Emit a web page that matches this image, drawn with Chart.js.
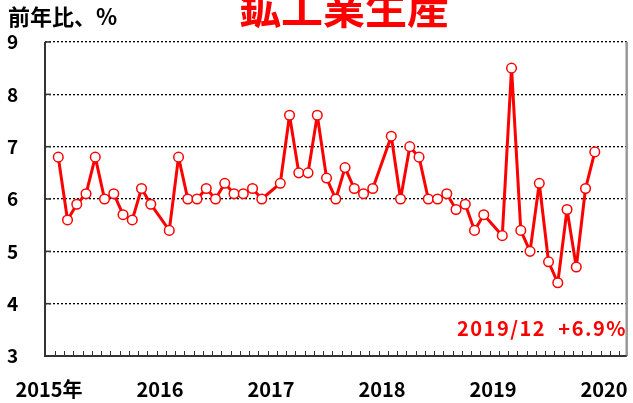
<!DOCTYPE html>
<html>
<head>
<meta charset="utf-8">
<script src="https://cdn.jsdelivr.net/npm/chart.js@4.4.1/dist/chart.umd.min.js"></script>
<style>
  html, body { margin: 0; padding: 0; background: #fff; }
  #wrap { width: 633px; height: 403px; }
</style>
</head>
<body>
<div id="wrap"><canvas id="ipChart" width="633" height="403"></canvas></div>
<script>
// 年ラベル（各年1月の位置）
const yearLabels = ['2015年', '2016', '2017', '2018', '2019', '2020'];

// 前年比 % （1月は1-2月合算のため欠測）
const ip2015 = [null, 6.8, 5.6, 5.9, 6.1, 6.8, 6.0, 6.1, 5.7, 5.6, 6.2, 5.9];
const ip2016 = [null, 5.4, 6.8, 6.0, 6.0, 6.2, 6.0, 6.3, 6.1, 6.1, 6.2, 6.0];
const ip2017 = [null, 6.3, 7.6, 6.5, 6.5, 7.6, 6.4, 6.0, 6.6, 6.2, 6.1, 6.2];
const ip2018 = [null, 7.2, 6.0, 7.0, 6.8, 6.0, 6.0, 6.1, 5.8, 5.9, 5.4, 5.7];
const ip2019 = [null, 5.3, 8.5, 5.4, 5.0, 6.3, 4.8, 4.4, 5.8, 4.7, 6.2, 6.9];

const yTicks = [3, 4, 5, 6, 7, 8, 9];

const title = '鉱工業生産';
const unitLabel = '前年比、%';
const latestLabel = '2019/12';
const latestValue = '+6.9%';

const ipValues = [].concat(ip2015, ip2016, ip2017, ip2018, ip2019);
const ipPoints = ipValues.map((v, i) => ({ x: i, y: v }));

const FONT = "'Noto Sans CJK JP', 'Noto Sans', sans-serif";
const RED = '#ff0000';

// 枠線・目盛り・テキストの描画
const framePlugin = {
    id: 'frame',
    beforeDatasetsDraw(chart) {
        const { ctx, chartArea: a, scales } = chart;
        const xs = scales.x, ys = scales.y;
        ctx.save();
        // 月の目盛り（内向き）
        ctx.strokeStyle = '#333';
        ctx.lineWidth = 1;
        for (let i = 1; i <= 62; i++) {
            const px = Math.round(xs.getPixelForValue(i - 0.36)) + 0.5;
            ctx.beginPath();
            ctx.moveTo(px, a.bottom);
            ctx.lineTo(px, a.bottom - 5);
            ctx.stroke();
        }
        // y 軸の目盛り（内向き）
        ctx.lineWidth = 1.5;
        yTicks.forEach(v => {
            const py = ys.getPixelForValue(v);
            ctx.beginPath();
            ctx.moveTo(a.left, py);
            ctx.lineTo(a.left + 6, py);
            ctx.stroke();
        });
        // 右の枠
        ctx.strokeStyle = '#999';
        ctx.lineWidth = 2.5;
        ctx.beginPath();
        ctx.moveTo(a.right, a.top);
        ctx.lineTo(a.right, a.bottom);
        ctx.stroke();
        // 左軸・下軸
        ctx.strokeStyle = '#333';
        ctx.lineWidth = 2;
        ctx.beginPath();
        ctx.moveTo(a.left, a.top);
        ctx.lineTo(a.left, a.bottom);
        ctx.lineTo(a.right, a.bottom);
        ctx.stroke();
        ctx.restore();
    },
    afterDraw(chart) {
        const { ctx } = chart;
        ctx.save();
        ctx.textBaseline = 'alphabetic';
        // タイトル
        ctx.fillStyle = RED;
        ctx.font = 'bold 42px ' + FONT;
        ctx.textAlign = 'center';
        ctx.fillText(title, 344, 24);
        // 単位
        ctx.fillStyle = '#000';
        ctx.font = 'bold 22px ' + FONT;
        ctx.textAlign = 'left';
        ctx.fillText(unitLabel, 8, 25);
        // 最新値
        ctx.fillStyle = RED;
        ctx.font = 'bold 20px ' + FONT;
        ctx.letterSpacing = '1.5px';
        ctx.textAlign = 'left';
        ctx.fillText(latestLabel, 457, 336);
        ctx.textAlign = 'right';
        ctx.fillText(latestValue, 627, 336);
        ctx.restore();
    }
};

new Chart(document.getElementById('ipChart'), {
    type: 'line',
    data: {
        datasets: [{
            data: ipPoints,
            borderColor: RED,
            borderWidth: 3,
            borderJoinStyle: 'round',
            pointRadius: 4.8,
            pointBackgroundColor: '#fff',
            pointBorderColor: RED,
            pointBorderWidth: 1.5,
            tension: 0,
            spanGaps: true
        }]
    },
    options: {
        responsive: false,
        animation: false,
        layout: { padding: { left: 7, right: 5, top: 42, bottom: 0 } },
        plugins: {
            legend: { display: false },
            tooltip: { enabled: false }
        },
        scales: {
            x: {
                type: 'linear',
                min: -0.435,
                max: 62.45,
                afterBuildTicks: scale => {
                    scale.ticks = yearLabels.map((_, k) => ({ value: k * 12 }));
                },
                afterFit: scale => {
                    scale.height = 47;
                    scale.paddingLeft = 0;
                    scale.paddingRight = 0;
                },
                ticks: {
                    callback: v => yearLabels[Math.round(v / 12)],
                    color: '#000',
                    font: { family: FONT, size: 20, weight: 'bold' },
                    padding: 21,
                    maxRotation: 0,
                    autoSkip: false
                },
                grid: { display: false, drawTicks: false },
                border: { display: false }
            },
            y: {
                min: 3,
                max: 9,
                afterBuildTicks: scale => {
                    scale.ticks = yTicks.map(v => ({ value: v }));
                },
                afterFit: scale => {
                    scale.width = 38;
                    scale.paddingTop = 0;
                    scale.paddingBottom = 0;
                },
                ticks: {
                    crossAlign: 'far',
                    color: '#000',
                    font: { family: FONT, size: 19, weight: 'bold' }
                },
                grid: {
                    color: '#000',
                    lineWidth: 1.3,
                    drawTicks: false
                },
                border: { display: false, dash: [2, 2] }
            }
        }
    },
    plugins: [framePlugin]
});
</script>
</body>
</html>
